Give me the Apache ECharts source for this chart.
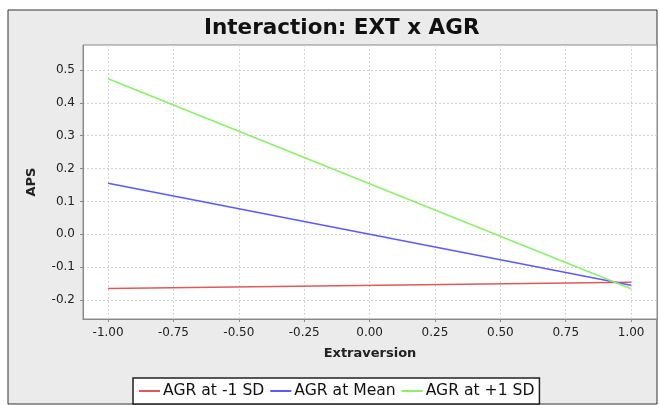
<!DOCTYPE html>
<html>
<head>
<meta charset="utf-8">
<style>
  html, body { margin: 0; padding: 0; background: #fff; }
  #chart { width: 660px; height: 405px; }
</style>
<script src="https://cdn.jsdelivr.net/npm/echarts@6/dist/echarts.min.js"></script>
</head>
<body>
<div id="chart"></div>
<script>
// x values (Extraversion) at the two ends of each line
const xEnds = [-1, 1];
// APS values for each line
const agrLow = [-0.165, -0.146];
const agrMean = [0.155, -0.155];
const agrHigh = [0.473, -0.166];
const seriesNames = ["AGR at -1 SD", "AGR at Mean", "AGR at +1 SD"];
const seriesColors = ["#e05a5a", "#5a5aff", "#8cf06a"];
// tick labels
const xTicks = [-1, -0.75, -0.5, -0.25, 0, 0.25, 0.5, 0.75, 1];
const yTicks = [-0.2, -0.1, 0, 0.1, 0.2, 0.3, 0.4, 0.5];

const chart = echarts.init(document.getElementById("chart"));

const pairs = (ys) => xEnds.map((x, i) => [x, ys[i]]);
const allData = [agrLow, agrMean, agrHigh];

const font = "'DejaVu Sans', sans-serif";

const option = {
  animation: false,
  textStyle: { fontFamily: font },
  graphic: [
    {
      type: "rect",
      z: -10,
      shape: { x: 8, y: 10, width: 649, height: 394 },
      style: { fill: "#ebebeb", stroke: "#333", lineWidth: 1 },
    },
  ],
  title: {
    text: "Interaction: EXT x AGR",
    left: 199,
    top: 12,
    textStyle: { fontSize: 21.5, fontWeight: "bold", color: "#111", fontFamily: font },
  },
  grid: {
    left: 83,
    right: 3,
    top: 45,
    height: 274,
    show: true,
    backgroundColor: "#fff",
    borderColor: "#888",
    borderWidth: 1,
  },
  legend: {
    bottom: 1,
    left: 133,
    padding: [5, 5, 5, 6],
    backgroundColor: "#fff",
    borderColor: "#222",
    borderWidth: 1.5,
    borderRadius: 0,
    itemWidth: 21,
    itemHeight: 2,
    itemGap: 6,
    icon: "rect",
    data: seriesNames,
    textStyle: { fontSize: 15.6, color: "#111", fontFamily: font, padding: [0, 0, 0, -2] },
  },
  xAxis: {
    type: "value",
    min: -1.096,
    max: 1.099,
    name: "Extraversion",
    nameLocation: "middle",
    nameGap: 28,
    nameTextStyle: { fontSize: 13, fontWeight: "bold", color: "#222" },
    axisLine: { show: true, onZero: false, lineStyle: { color: "#888" } },
    axisTick: { show: true, length: 3, customValues: xTicks, lineStyle: { color: "#888" } },
    axisLabel: {
      customValues: xTicks,
      fontSize: 12,
      color: "#222",
      margin: 8,
      formatter: (v) => v.toFixed(2),
    },
    splitLine: { show: true, lineStyle: { color: "#d4d4d4", type: [2, 2] } },
  },
  yAxis: {
    type: "value",
    min: -0.258,
    max: 0.576,
    name: "APS",
    nameLocation: "middle",
    nameGap: 45,
    nameRotate: 90,
    nameTextStyle: { fontSize: 13, fontWeight: "bold", color: "#222" },
    axisLine: { show: true, onZero: false, lineStyle: { color: "#888" } },
    axisTick: { show: true, length: 3, customValues: yTicks, lineStyle: { color: "#888" } },
    axisLabel: {
      customValues: yTicks,
      fontSize: 12,
      color: "#222",
      margin: 8,
      formatter: (v) => v.toFixed(1),
    },
    splitLine: { show: true, lineStyle: { color: "#d4d4d4", type: [2, 2] } },
  },
  series: allData.map((ys, i) => ({
    name: seriesNames[i],
    type: "line",
    data: pairs(ys),
    showSymbol: false,
    symbol: "none",
    color: seriesColors[i],
    lineStyle: { width: 1.6, color: seriesColors[i] },
  })),
};

chart.setOption(option);
</script>
</body>
</html>
